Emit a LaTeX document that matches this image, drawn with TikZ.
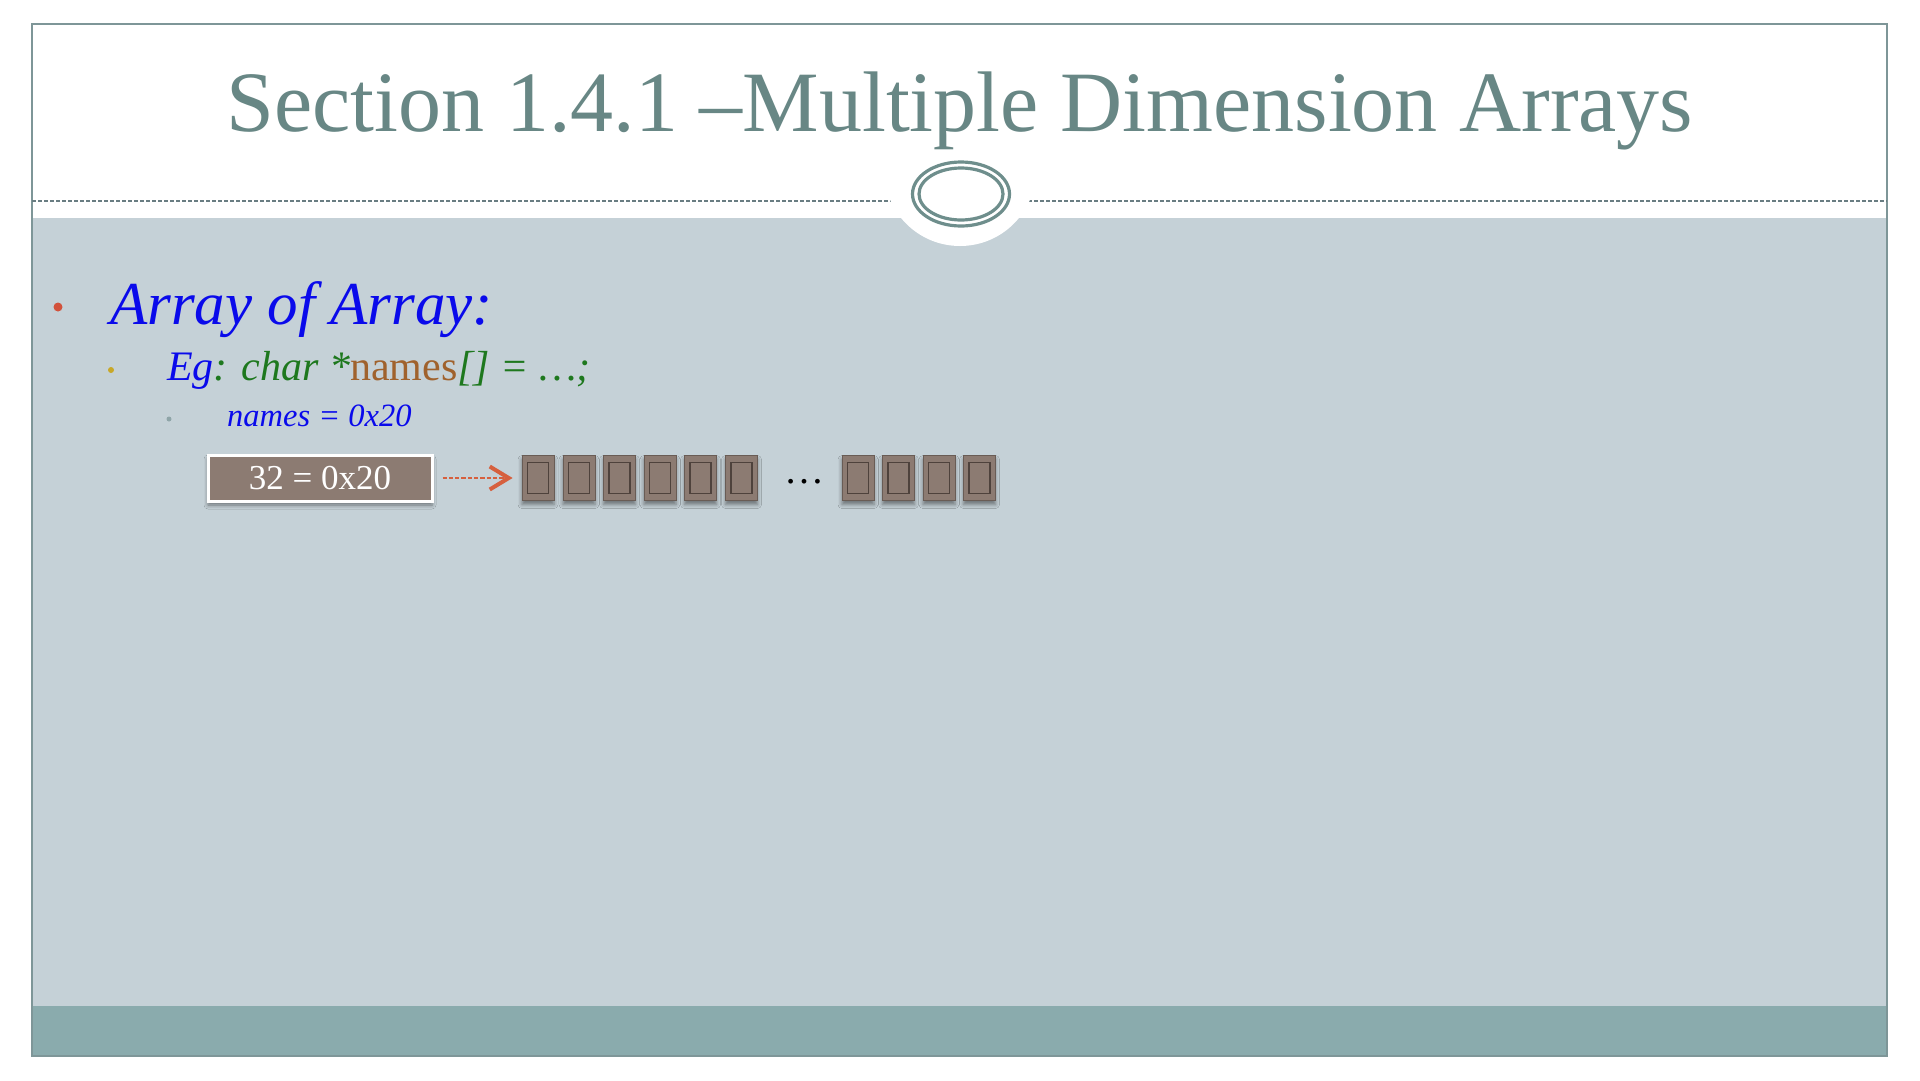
\documentclass[tikz,border=0pt]{standalone}
\usepackage{fontspec}
\setmainfont{Liberation Serif}
\usetikzlibrary{arrows.meta,shadows.blur}

\definecolor{bodybg}{RGB}{197,209,215}
\definecolor{footbar}{RGB}{138,171,173}
\definecolor{framecol}{RGB}{126,150,152}
\definecolor{titlecol}{RGB}{104,135,133}
\definecolor{ringcol}{RGB}{110,142,140}
\definecolor{dashcol}{RGB}{105,125,130}
\definecolor{cellfill}{RGB}{140,123,114}
\definecolor{celledge}{RGB}{105,92,85}
\definecolor{glyphcol}{RGB}{78,66,60}
\definecolor{arrowcol}{RGB}{214,96,62}
\definecolor{bulletA}{RGB}{210,82,60}
\definecolor{bulletB}{RGB}{200,168,40}
\definecolor{bulletC}{RGB}{143,165,168}
\definecolor{codegreen}{RGB}{30,120,30}
\definecolor{codebrown}{RGB}{160,98,45}
\definecolor{textblue}{RGB}{10,10,235}

\tikzset{
  txt/.style={inner sep=0pt, anchor=base west},
  softshadow/.style={blur shadow={shadow xshift=0pt, shadow yshift=-4pt,
      shadow blur radius=4pt, shadow opacity=45}},
  valuebox/.style={draw=white, line width=3pt, fill=cellfill, text=white,
      minimum width=224pt, minimum height=46pt, inner sep=0pt, softshadow},
  cellbox/.style={draw=celledge, line width=0.8pt, fill=cellfill,
      minimum width=32pt, minimum height=45pt, inner sep=0pt, softshadow},
  glyphbox/.style={draw=glyphcol, line width=1.4pt,
      minimum width=21pt, minimum height=31pt, inner sep=0pt},
  ptrarrow/.style={arrowcol, line width=2.6pt, dash pattern=on 4.3pt off 2pt,
      -{Straight Barb[length=19pt, width=23pt, line width=4pt]}},
  ring/.style={ringcol, line width=3.2pt}
}

\begin{document}
\begin{tikzpicture}[x=1pt, y=-1pt]
\useasboundingbox (0,0) rectangle (1920,1080);
\fill[white] (0,0) rectangle (1920,1080);

% slide body and footer band
\fill[bodybg] (32,218) rectangle (1887,1006);
\fill[footbar] (32,1006) rectangle (1887,1056);
\draw[framecol, line width=1.5pt] (32,24) rectangle (1887,1056);

% header rule with the double-ring ornament
\draw[dashcol, line width=1.2pt, dash pattern=on 4pt off 2pt] (32,201) -- (1887,201);
\fill[white] (960,170) circle [radius=76];
\draw[ring] (961,194) ellipse [x radius=48.5, y radius=32];
\draw[ring] (961,194) ellipse [x radius=42, y radius=26];

% title
\node[titlecol, inner sep=0pt, anchor=base, font=\fontsize{86}{86}\selectfont]
  (title) at (960,131) {Section 1.4.1 –Multiple Dimension Arrays};

% bullet list
\fill[bulletA] (58,307) circle [radius=4.5];
\node[txt, textblue, font=\fontsize{61}{61}\selectfont\itshape]
  (l1) at (110,324) {Array of Array:};

\fill[bulletB] (111,370) circle [radius=3];
\node[txt, font=\fontsize{42}{42}\selectfont] (l2) at (167,380)
  {\textcolor{textblue}{\itshape Eg}\textcolor{codegreen}{\itshape : char *}\textcolor{codebrown}{names}\textcolor{codegreen}{\itshape[] = …;}};

\fill[bulletC] (169,419) circle [radius=2.5];
\node[txt, textblue, font=\fontsize{32.5}{32.5}\selectfont\itshape]
  (l3) at (227,426) {names = 0x20};

% pointer value and the memory cells it points to
\node[valuebox, font=\fontsize{35}{35}\selectfont] (ptr) at (320,478)
  {\raisebox{-3pt}{32 = 0x20}};

\foreach \i/\x in {1/538, 2/579, 3/619.5, 4/660, 5/700.5, 6/741.5,
                   7/858, 8/898.5, 9/939, 10/979.5} {
  \node[cellbox] (c\i) at (\x,478) {};
  \node[glyphbox] (g\i) at (c\i) {};
}

\node[inner sep=0pt, anchor=base, font=\fontsize{40}{40}\selectfont]
  (gap) at (804,483) {…};

\draw[ptrarrow, shorten <=9pt, shorten >=9pt] (ptr.east) -- (c1.west);
\end{tikzpicture}
\end{document}
